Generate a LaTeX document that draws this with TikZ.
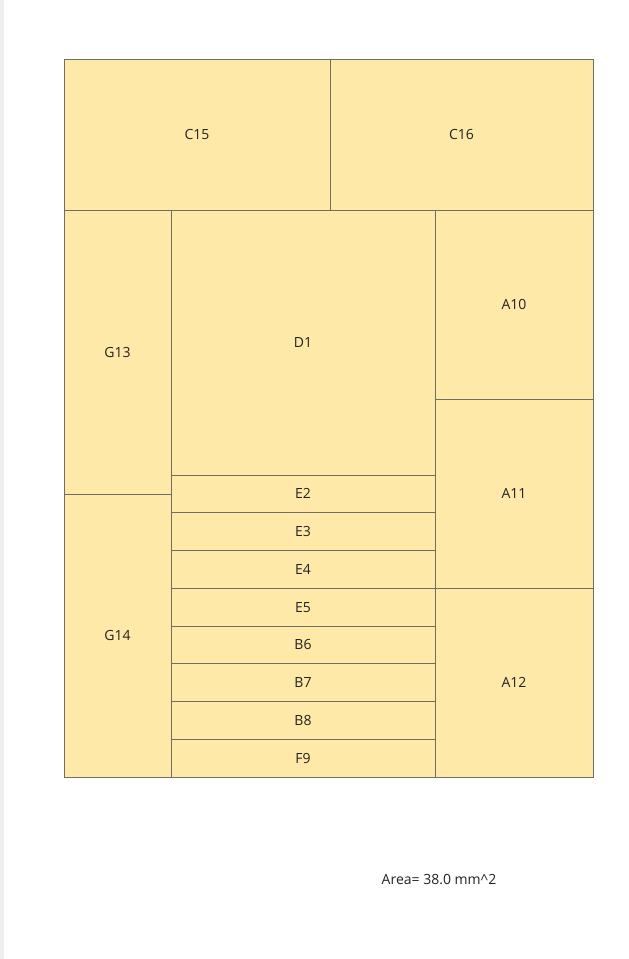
\documentclass[tikz,border=0pt]{standalone}
\usepackage{fontspec}
\setmainfont{Open Sans}
\definecolor{cellfill}{HTML}{FFE9A8}
\definecolor{celledge}{HTML}{6E6E64}
\definecolor{celltext}{HTML}{222222}
\definecolor{sidestrip}{HTML}{EFEFEF}
\tikzset{
  cell/.style={draw=celledge, fill=cellfill, line width=1pt, inner sep=0pt,
    text=celltext, font=\fontsize{14}{16}\selectfont},
}

\begin{document}
\begin{tikzpicture}[x=1pt, y=-1pt]
    % page
    \fill[white] (0,0) rectangle (629,959);
    \fill[sidestrip] (0,0) rectangle (4,959);
    \useasboundingbox (0,0) rectangle (629,959);
    % top row
    \node[cell, minimum width=266pt, minimum height=151pt] (C15) at (197,134.5) {C15};
    \node[cell, minimum width=263pt, minimum height=151pt] (C16) at (461.5,134.5) {C16};
    % left column
    \node[cell, minimum width=107pt, minimum height=284pt] (G13) at (117.5,352) {G13};
    \node[cell, minimum width=107pt, minimum height=283pt] (G14) at (117.5,635.5) {G14};
    % middle column
    \node[cell, minimum width=264pt, minimum height=265pt] (D1) at (303,342.5) {D1};
    \foreach \lbl [count=\i from 0] in {E2,E3,E4,E5,B6,B7,B8,F9}
        \node[cell, minimum width=264pt, minimum height=37.75pt] (\lbl) at (303,{475+37.75*(\i+0.5)}) {\lbl};
    % right column
    \node[cell, minimum width=158pt, minimum height=189pt] (A10) at (514,304.5) {A10};
    \node[cell, minimum width=158pt, minimum height=189pt] (A11) at (514,493.5) {A11};
    \node[cell, minimum width=158pt, minimum height=189pt] (A12) at (514,682.5) {A12};
    % total
    \node[text=celltext, font=\fontsize{14}{16}\selectfont] (area) at (439,880) {Area= 38.0 mm\^{}2};
\end{tikzpicture}
\end{document}
